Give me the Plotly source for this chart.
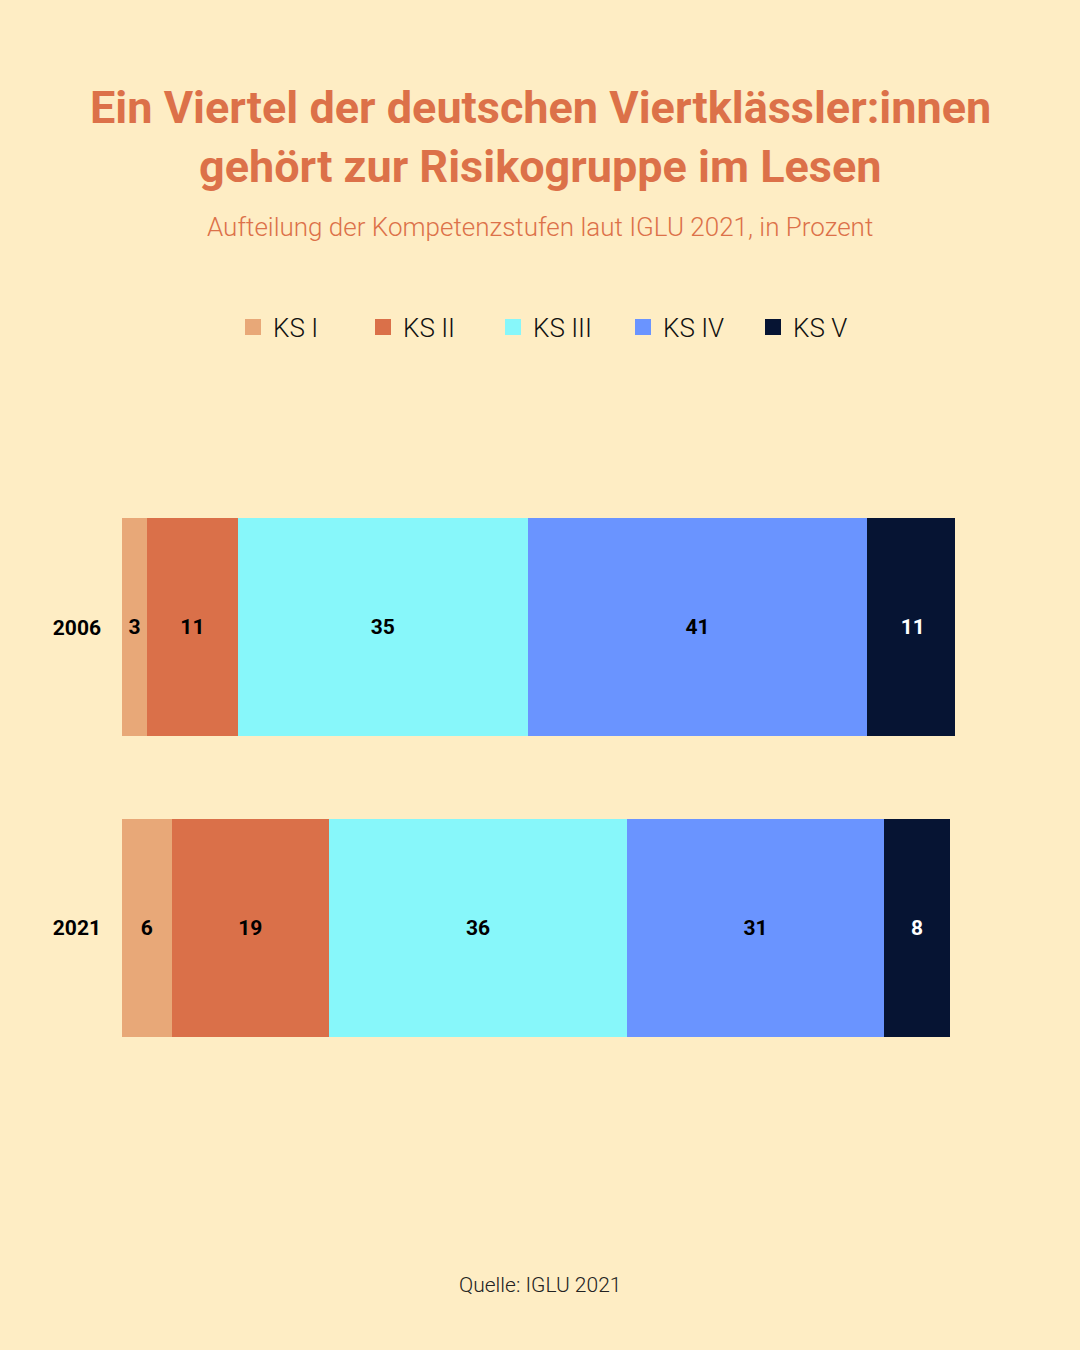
import plotly.graph_objects as go

years = ["2006", "2021"]
levels = ["KS I", "KS II", "KS III", "KS IV", "KS V"]
values = {
    "KS I": [3, 6],
    "KS II": [11, 19],
    "KS III": [35, 36],
    "KS IV": [41, 31],
    "KS V": [11, 8],
}
colors = {
    "KS I": "#E8A878",
    "KS II": "#DA7049",
    "KS III": "#87F7FA",
    "KS IV": "#6A94FF",
    "KS V": "#061433",
}
text_colors = {"KS I": "#000", "KS II": "#000", "KS III": "#000", "KS IV": "#000", "KS V": "#fff"}

W, H = 1080, 1350
ML, MR, MT, MB = 122, 125, 477, 272
BG = "#FEEDC4"
ORANGE = "#DC7149"


def py(px_y):
    return (H - MB - px_y) / (H - MT - MB)


fig = go.Figure()
for lv in levels:
    fig.add_trace(go.Bar(
        name=lv,
        y=years,
        x=values[lv],
        orientation="h",
        marker=dict(color=colors[lv], line=dict(width=0)),
        text=[str(v) for v in values[lv]],
        textposition="inside",
        insidetextanchor="middle",
        textangle=0,
        textfont=dict(family="Roboto", size=21, color=text_colors[lv], weight="bold"),
        hoverinfo="skip",
        legendgroup=lv,
        showlegend=False,
    ))

# legend entries with larger square swatches
for lv in levels:
    fig.add_trace(go.Scatter(
        name=lv,
        x=[None], y=[None],
        mode="markers",
        marker=dict(symbol="square", size=16, color=colors[lv]),
        legendgroup=lv,
        showlegend=True,
        hoverinfo="skip",
    ))

fig.update_layout(
    width=W, height=H,
    barmode="stack",
    bargap=0.276,
    paper_bgcolor=BG, plot_bgcolor=BG,
    margin=dict(l=ML, r=MR, t=MT, b=MB),
    showlegend=True,
    legend=dict(
        orientation="h",
        xref="container", yref="container",
        x=233 / W, xanchor="left",
        y=1 - 327 / H, yanchor="middle",
        font=dict(family="Roboto", size=26, color="#111", weight=300),
        entrywidth=85,
        itemsizing="trace",
        bgcolor="rgba(0,0,0,0)",
        traceorder="normal",
    ),
    xaxis=dict(range=[0, 100.6], visible=False, fixedrange=True),
    yaxis=dict(
        autorange="reversed",
        showgrid=False, zeroline=False, showline=False,
        ticks="", ticklabelstandoff=20,
        tickfont=dict(family="Roboto", size=21, color="#000", weight="bold"),
    ),
    uniformtext=dict(minsize=10, mode="show"),
)

annotations = [
    dict(text="<b>Ein Viertel der deutschen Viertklässler:innen</b>", y=py(107), size=45, color=ORANGE, weight=None),
    dict(text="<b>gehört zur Risikogruppe im Lesen</b>", y=py(166), size=45, color=ORANGE, weight=None),
    dict(text="Aufteilung der Kompetenzstufen laut IGLU 2021, in Prozent", y=py(227), size=26, color=ORANGE, weight=300),
    dict(text="Quelle: IGLU 2021", y=py(1285), size=21, color="#222", weight=300),
]
for a in annotations:
    font = dict(family="Roboto", size=a["size"], color=a["color"])
    if a["weight"]:
        font["weight"] = a["weight"]
    fig.add_annotation(
        text=a["text"], xref="paper", yref="paper",
        x=(540 - ML) / (W - ML - MR), y=a["y"],
        xanchor="center", yanchor="middle",
        showarrow=False, font=font,
    )

fig.write_html(
    "out.html",
    config={"displayModeBar": False},
    post_script="document.body.style.margin='0';document.body.style.background='" + BG + "';",
)
